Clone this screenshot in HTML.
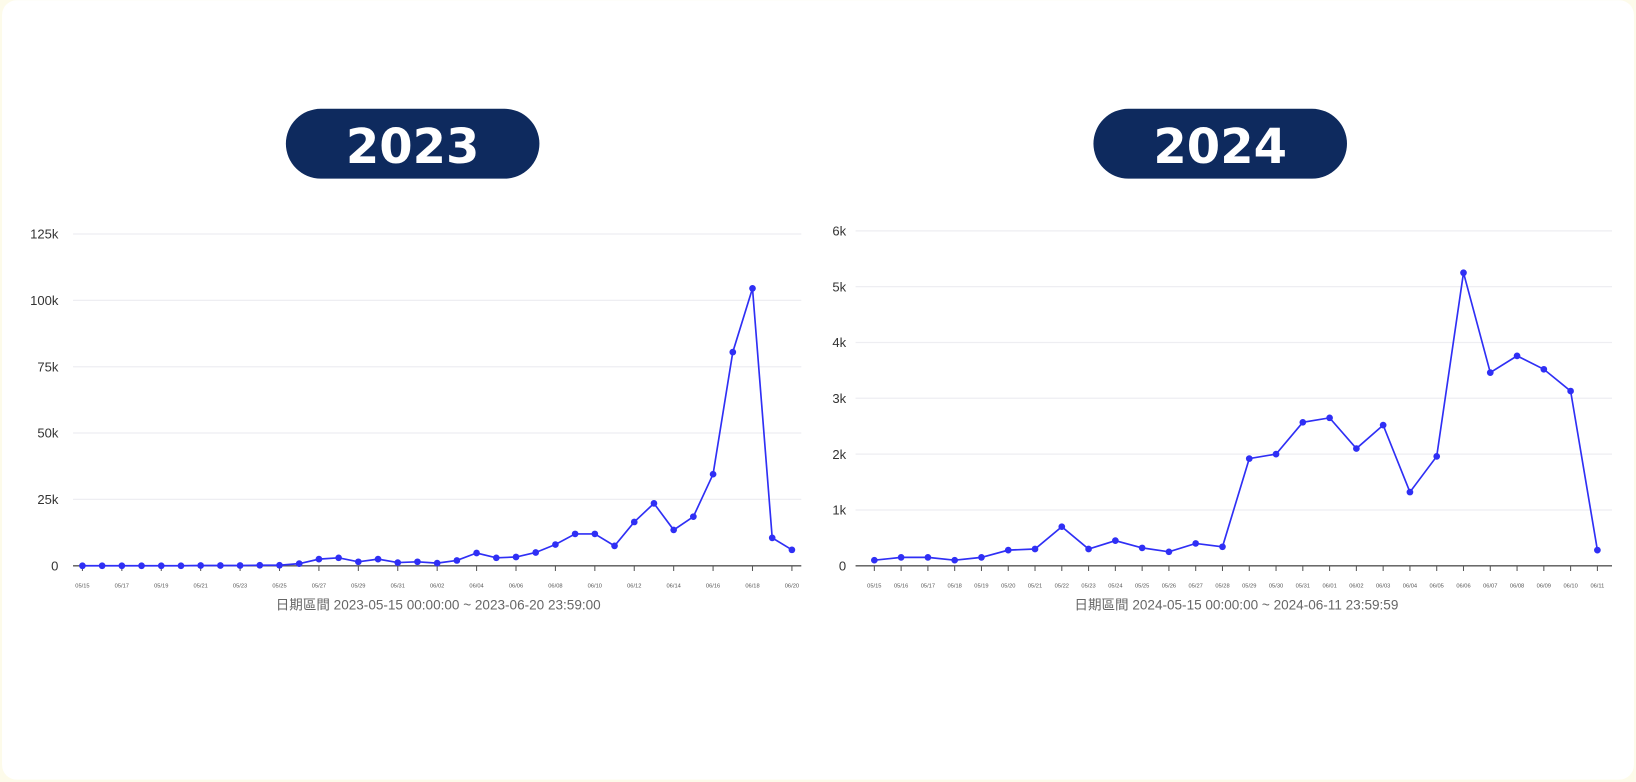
<!DOCTYPE html>
<html><head><meta charset="utf-8"><style>
html,body{margin:0;padding:0;background:#fdfbea;}
#wrap{width:1636px;height:782px;position:relative;overflow:hidden;}
svg{display:block;font-family:"Liberation Sans","Noto Sans CJK TC",sans-serif;}
</style></head><body>
<div id="wrap">
<svg id="svg" width="1636" height="782" viewBox="0 0 1568 749">
<rect x="2" y="0" width="1564" height="747" rx="14" fill="#ffffff"/>
<g>
<rect x="274" y="104" width="243" height="67" rx="33.5" fill="#0e2a5e"/>
<text x="395.5" y="156" text-anchor="middle" font-size="46" font-weight="bold" fill="#fff" font-family="'DejaVu Sans',sans-serif">2023</text>
</g>
<g>
<rect x="1048" y="104" width="243" height="67" rx="33.5" fill="#0e2a5e"/>
<text x="1169.5" y="156" text-anchor="middle" font-size="46" font-weight="bold" fill="#fff" font-family="'DejaVu Sans',sans-serif">2024</text>
</g>
<g id="c1"></g>
<g id="c2"></g>
</svg>
</div>
<script>
const cats2023 = ["05/15","05/16","05/17","05/18","05/19","05/20","05/21","05/22","05/23","05/24","05/25","05/26","05/27","05/28","05/29","05/30","05/31","06/01","06/02","06/03","06/04","06/05","06/06","06/07","06/08","06/09","06/10","06/11","06/12","06/13","06/14","06/15","06/16","06/17","06/18","06/19","06/20"];
const vals2023 = [0,0,0,0,0,0,100,100,100,200,200,800,2500,3000,1500,2500,1200,1500,1000,2000,4800,3000,3300,5000,8000,12000,12000,7500,16500,23500,13500,18500,34500,80500,104500,10500,6000];
const ticks2023 = [0,25000,50000,75000,100000,125000];
const tickLabels2023 = ["0","25k","50k","75k","100k","125k"];
const cats2024 = ["05/15","05/16","05/17","05/18","05/19","05/20","05/21","05/22","05/23","05/24","05/25","05/26","05/27","05/28","05/29","05/30","05/31","06/01","06/02","06/03","06/04","06/05","06/06","06/07","06/08","06/09","06/10","06/11"];
const vals2024 = [100,150,150,100,150,280,300,700,300,450,320,250,400,340,1920,2000,2570,2650,2100,2520,1320,1960,5250,3460,3760,3520,3130,280];
const ticks2024 = [0,1000,2000,3000,4000,5000,6000];
const tickLabels2024 = ["0","1k","2k","3k","4k","5k","6k"];

const NS="http://www.w3.org/2000/svg";
function mk(tag,attrs,parent){const e=document.createElementNS(NS,tag);for(const k in attrs)e.setAttribute(k,attrs[k]);parent.appendChild(e);return e;}

function draw(g,cats,vals,ticks,labels,o){
  const n=cats.length;
  const xs=i=>o.x0+(o.x1-o.x0)*i/(n-1);
  const ys=v=>o.yb-(v/ticks[ticks.length-1])*(o.yb-o.yt);
  ticks.forEach((t,i)=>{
    if(i>0){const l=mk('line',{x1:o.gl,x2:o.gr,y1:ys(t),y2:ys(t),stroke:'#eeeef2','stroke-width':1.2},g);
    
    }
    const tx=mk('text',{x:o.lx,y:ys(t)+4.5,'text-anchor':'end','font-size':12.5,fill:'#333'},g);
    tx.textContent=labels[i];
    
    
  });
  const ax=mk('line',{x1:o.gl,x2:o.gr,y1:o.yb,y2:o.yb,stroke:'#555','stroke-width':1.3},g);
  
  
  cats.forEach((c,i)=>{
    if(i%o.step!==0) return;
    mk('line',{x1:xs(i),x2:xs(i),y1:o.yb,y2:o.yb+5,stroke:'#555','stroke-width':1},g);
    const t=mk('text',{x:xs(i),y:o.yb+21,'text-anchor':'middle','font-size':5.5,fill:'#555'},g);
    t.textContent=c;
    
    
  });
  const p=mk('polyline',{points:vals.map((v,i)=>xs(i)+','+ys(v)).join(' '),fill:'none',stroke:'#2f2ff5','stroke-width':1.6},g);
  
  
  vals.forEach((v,i)=>{
    const c=mk('circle',{cx:xs(i),cy:ys(v),r:3.2,fill:'#2f2ff5'},g);
    
    
  });
  const tt=mk('text',{x:o.tx,y:o.yb+42,'text-anchor':'middle','font-size':13,fill:'#666'},g);
  tt.textContent=o.title;
  
  
}
draw(document.getElementById('c1'),cats2023,vals2023,ticks2023,tickLabels2023,
 {x0:79,x1:759,yb:542,yt:224,gl:70,gr:768,lx:56,step:2,tx:420,title:"日期區間 2023-05-15 00:00:00 ~ 2023-06-20 23:59:00"});
draw(document.getElementById('c2'),cats2024,vals2024,ticks2024,tickLabels2024,
 {x0:838,x1:1531,yb:542,yt:221,gl:820,gr:1545,lx:811,step:1,tx:1185,title:"日期區間 2024-05-15 00:00:00 ~ 2024-06-11 23:59:59"});
</script>
</body></html>
